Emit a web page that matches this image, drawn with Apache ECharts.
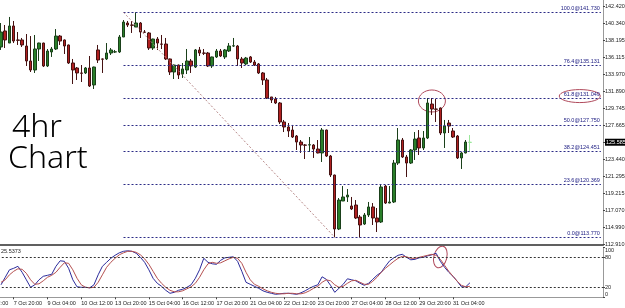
<!DOCTYPE html>
<html><head><meta charset="utf-8">
<script src="https://cdn.jsdelivr.net/npm/echarts@6/dist/echarts.min.js"></script>
<style>html,body{margin:0;padding:0;background:#fff}#c{width:625px;height:308px}</style>
</head><body><div id="c"></div>
<script>
// ---- data (EURJPY 4h) ----
const opens=[137.42,139.41,137.91,140.03,138.29,138.29,137.54,135.68,134.56,137.17,137.91,135.06,136.80,137.17,138.78,138.29,137.67,135.43,134.81,134.19,134.19,134.81,132.70,137.05,135.93,135.93,136.67,136.80,136.80,138.66,140.40,140.15,139.90,140.40,139.28,139.16,137.29,138.41,137.79,137.79,135.93,134.31,135.18,134.06,134.56,135.68,134.93,137.05,136.67,136.67,135.06,136.18,136.92,136.18,136.92,137.54,137.54,135.93,135.31,136.18,135.55,135.31,134.19,133.32,131.21,130.96,130.46,128.10,127.48,127.10,126.36,125.61,125.24,125.24,125.24,124.74,124.25,127.10,123.87,121.51,114.80,118.28,118.78,117.66,117.78,116.29,115.42,116.54,117.54,116.17,115.67,120.14,118.03,118.16,123.00,125.86,123.75,123.00,124.62,126.11,124.87,126.11,130.33,129.71,129.84,126.73,127.97,126.98,126.36,123.63,124.25,125.56];
const closes=[139.28,138.29,140.03,138.16,138.25,137.67,135.68,134.56,137.17,137.91,135.06,136.92,137.17,138.78,138.16,137.54,135.43,134.56,134.19,134.15,134.81,132.57,134.93,135.80,135.90,136.67,137.05,136.82,138.66,140.52,140.15,140.12,140.40,139.28,139.25,137.29,138.41,137.91,137.76,135.93,134.31,135.18,133.94,134.69,135.68,135.06,137.05,136.67,136.64,135.06,136.18,136.92,136.30,137.05,137.54,137.57,135.93,135.43,136.05,135.55,135.18,134.19,133.32,131.08,130.83,130.46,128.10,127.48,126.98,126.23,125.61,125.24,125.21,125.27,124.74,124.25,127.10,123.87,121.51,114.80,118.40,118.78,119.02,117.29,116.17,115.30,116.54,117.54,116.17,115.67,120.02,118.03,118.16,123.00,125.86,123.75,123.00,124.62,125.98,124.87,126.11,130.46,129.71,129.68,126.73,127.60,127.60,126.23,123.63,124.25,125.61,125.585];
const lows=[137.05,137.29,137.91,137.91,137.67,137.42,135.06,134.31,134.19,135.68,134.93,134.93,136.18,137.05,137.67,136.55,135.31,132.82,133.32,133.07,134.06,132.45,132.20,135.43,134.19,135.80,136.42,136.67,136.67,138.66,139.90,139.16,139.90,138.54,139.16,137.05,137.05,137.05,137.17,135.80,133.94,133.44,133.44,133.57,134.06,134.19,134.81,136.30,136.42,134.93,134.81,136.05,136.18,135.93,136.80,137.42,135.06,134.81,135.18,135.43,135.06,134.06,132.70,130.96,130.46,130.33,127.85,126.85,126.23,126.11,124.62,124.25,123.50,124.37,123.63,124.20,123.13,123.75,121.26,113.77,114.67,118.28,118.16,117.16,116.04,113.75,115.30,116.29,115.30,114.43,115.55,117.91,118.00,118.03,122.76,123.63,121.26,122.88,123.38,124.00,124.62,125.98,128.97,128.10,126.48,124.87,126.73,126.11,123.50,122.26,124.20,124.37];
const highs=[140.40,140.15,141.15,140.65,139.28,138.54,139.03,138.78,138.91,137.95,137.95,137.17,137.42,139.65,138.91,138.35,137.72,135.93,134.93,135.18,134.93,136.30,134.98,137.67,135.98,137.91,137.29,137.05,138.91,140.77,140.65,140.65,141.73,140.52,139.53,139.28,138.45,138.66,138.91,138.54,135.98,135.23,135.23,135.43,137.17,135.93,137.17,137.42,137.17,136.80,136.22,137.17,137.17,137.17,137.91,138.54,137.67,136.18,136.18,136.30,135.80,135.43,134.31,133.57,131.21,131.21,130.58,128.35,127.97,127.73,126.48,125.86,125.36,126.23,125.36,125.86,127.35,127.15,124.00,121.55,118.65,120.14,119.77,118.78,118.40,116.54,116.79,118.16,118.03,117.41,120.27,120.27,120.14,123.38,127.35,126.11,124.00,124.74,126.85,127.10,126.98,131.08,131.08,130.96,129.90,128.35,128.35,127.35,126.48,124.37,125.86,126.48];
const stochMain=[25,40,55,58,62,50,35,20,25,35,42,44,46,62,73,72,58,35,21,20,20,19,25,45,62,70,78,84,89,92,93,92,88,80,70,55,38,28,22,14,8,10,14,16,20,25,38,55,78,70,67,66,74,79,80,81,72,52,30,26,22,18,13,10,8,6,7,8,8,7,6,9,13,18,22,25,41,36,24,10,18,26,37,35,33,28,24,28,36,44,50,62,73,79,84,86,80,75,76,79,80,83,85,88,72,60,50,42,32,21,21,29];
const stochSignal=[30,35,45,52,57,56,48,35,26,27,33,40,44,50,60,69,68,55,38,25,20,19,20,30,45,60,70,78,85,89,92,92,90,85,77,66,52,38,28,20,14,11,11,13,17,21,28,40,55,67,70,68,69,73,77,80,78,68,50,35,26,22,17,13,10,8,7,7,8,8,7,7,9,13,18,22,30,35,33,25,20,22,28,33,34,30,26,26,32,40,50,58,65,72,78,82,81,78,78,80,82,84,86,84,76,64,52,42,32,24,21,22];
const timeLabels=['6 Oct 12:00','7 Oct 20:00','9 Oct 04:00','10 Oct 12:00','13 Oct 20:00','15 Oct 04:00','16 Oct 12:00','17 Oct 20:00','21 Oct 04:00','22 Oct 12:00','23 Oct 20:00','27 Oct 04:00','28 Oct 12:00','29 Oct 20:00','31 Oct 04:00'];
const priceTicks=[142.420,140.340,138.195,136.115,133.970,131.890,129.745,127.665,125.585,123.440,121.295,119.215,117.070,114.990,112.910];
const currentPrice=125.585;
const fibPct=[100.0,76.4,61.8,50.0,38.2,23.6,0.0];
const fibPrice=[141.730,135.131,131.049,127.750,124.451,120.369,113.770];
const fibStartBar=29, fibEndBar=79;
const stochLevels=[80,20];
const stochTicks=[0,20,80,100];
const stochText='25.5373';

// ---- layout ----
const lead=5, trail=31;
const nBars=opens.length;
const N=lead+nBars+trail;
const cats=Array.from({length:N},(_,k)=>String(k));
const labelAt={}; timeLabels.forEach((t,m)=>{labelAt[m*8]=t;});
const candleData=[];
for(let k=0;k<N;k++){
  const i=k-lead;
  if(i<0||i>=nBars){candleData.push('-');continue;}
  const v=[opens[i],closes[i],lows[i],highs[i]];
  if(i===nBars-1){candleData.push({value:v,itemStyle:{color:'#9be89b',color0:'#9be89b',borderColor:'#9be89b',borderColor0:'#9be89b',borderColorDoji:'#9be89b'}});}
  else candleData.push(v);
}
const padLine=a=>cats.map((_,k)=>{const i=k-lead;return (i<0||i>=nBars)?'-':a[i];});
const FONT='Liberation Sans';
const fibLines=fibPrice.map((p,j)=>[
  {coord:[lead+fibStartBar,p],label:{formatter:fibPct[j].toFixed(1)+'@'+p.toFixed(3)}},
  {coord:[N-1,p]}
]);
const chart=echarts.init(document.getElementById('c'),null,{renderer:'canvas'});
const option={
  animation:false,
  backgroundColor:'#fff',
  grid:[
    {left:-22.23,right:22,top:0,height:245,outerBoundsMode:'none',containLabel:false},
    {left:-22.23,right:22,top:247.3,height:50,outerBoundsMode:'none',containLabel:false}
  ],
  xAxis:[
    {type:'category',gridIndex:0,data:cats,boundaryGap:true,
     axisLine:{show:true,onZero:false,lineStyle:{color:'#606060',width:2}},
     axisTick:{show:false},axisLabel:{show:false},splitLine:{show:false}},
    {type:'category',gridIndex:1,data:cats,boundaryGap:true,
     axisLine:{show:true,onZero:false,lineStyle:{color:'#999',width:1}},
     axisTick:{show:true,alignWithLabel:true,length:2,interval:(k)=>labelAt[k]!==undefined,lineStyle:{color:'#444'}},
     axisLabel:{show:true,interval:(k)=>labelAt[k]!==undefined,formatter:(v,k)=>labelAt[k]||'',
       align:'left',margin:3,fontSize:5.5,fontFamily:FONT,color:'#222',hideOverlap:false},
     splitLine:{show:false}}
  ],
  yAxis:[
    {type:'value',gridIndex:0,position:'right',min:112.813,max:143.2585,
     axisLine:{show:true,lineStyle:{color:'#999'}},
     axisTick:{show:true,customValues:priceTicks,length:2,lineStyle:{color:'#444'}},
     axisLabel:{show:true,customValues:priceTicks,margin:2,fontSize:5.5,fontFamily:FONT,color:'#222',
       formatter:(v)=>Math.abs(v-currentPrice)<1e-6?'{hl|'+v.toFixed(3)+'}':v.toFixed(3),
       rich:{hl:{backgroundColor:'#000',color:'#fff',fontSize:5.5,fontFamily:FONT,padding:[1,1,0,1]}}},
     splitLine:{show:false}},
    {type:'value',gridIndex:1,position:'right',min:0,max:100,
     axisLine:{show:true,lineStyle:{color:'#999'}},
     axisTick:{show:true,customValues:stochTicks,length:2,lineStyle:{color:'#444'}},
     axisLabel:{show:true,customValues:stochTicks,margin:2,fontSize:5.5,fontFamily:FONT,color:'#222',
       formatter:(v)=>v===100?'{t|100}':(v===0?'{b|0}':String(v)),
       rich:{t:{fontSize:5.5,fontFamily:FONT,color:'#222',padding:[6,0,0,0]},
             b:{fontSize:5.5,fontFamily:FONT,color:'#222',padding:[0,0,6,0]}}},
     splitLine:{show:false}}
  ],
  series:[
    {type:'candlestick',xAxisIndex:0,yAxisIndex:0,data:candleData,barWidth:3,
     itemStyle:{color:'#2a7f2a',color0:'#b02020',borderColor:'#1a401a',borderColor0:'#451212',borderColorDoji:'#333',borderWidth:1},
     markLine:{silent:true,symbol:['none','none'],animation:false,
       lineStyle:{color:'#2b2b86',type:[2,2],width:1},
       label:{show:true,position:'insideEndTop',distance:[1,1],fontSize:5.5,fontFamily:FONT,color:'#1a1a80'},
       data:fibLines.concat([[
         {coord:[lead+fibStartBar,fibPrice[0]],lineStyle:{color:'#b88a8a',type:[2,2]},label:{show:false}},
         {coord:[lead+fibEndBar,fibPrice[fibPrice.length-1]]}
       ]])}},
    {type:'line',xAxisIndex:1,yAxisIndex:1,data:padLine(stochMain),showSymbol:false,
     lineStyle:{color:'#2b2b9c',width:1},
     markLine:{silent:true,symbol:['none','none'],label:{show:false},
       lineStyle:{color:'#333',type:[2,2],width:1},
       data:stochLevels.map(v=>({yAxis:v}))}},
    {type:'line',xAxisIndex:1,yAxisIndex:1,data:padLine(stochSignal),showSymbol:false,
     lineStyle:{color:'#b55050',width:1}}
  ]
};
chart.setOption(option);
// annotations anchored to axes
const pc=chart.convertToPixel({gridIndex:0},[lead+102.4,130.71]);
const pf=chart.convertToPixel({gridIndex:0},[lead+137.3,131.32]);
const po=chart.convertToPixel({gridIndex:1},[lead+104.2,80.6]);
chart.setOption({graphic:[
  {type:'ellipse',shape:{cx:pc[0],cy:pc[1],rx:13.5,ry:11},style:{fill:'none',stroke:'#b04a5c',lineWidth:1}},
  {type:'ellipse',shape:{cx:pf[0],cy:pf[1],rx:20.5,ry:6.5},style:{fill:'none',stroke:'#b04a5c',lineWidth:1}},
  {type:'ellipse',shape:{cx:po[0],cy:po[1],rx:6.5,ry:11},rotation:-0.25,originX:po[0],originY:po[1],style:{fill:'none',stroke:'#b04a5c',lineWidth:1}},
  {type:'text',x:1,y:248,style:{text:stochText,fontSize:5.5,fontFamily:FONT,fill:'#222'}},
  {type:'text',x:12,y:112,style:{text:'4hr',fontSize:32,fontFamily:'Noto Sans',fontWeight:300,fill:'#000'}},
  {type:'text',x:8,y:143,style:{text:'Chart',fontSize:32,fontFamily:'Noto Sans',fontWeight:300,fill:'#000'}}
]});
</script></body></html>
